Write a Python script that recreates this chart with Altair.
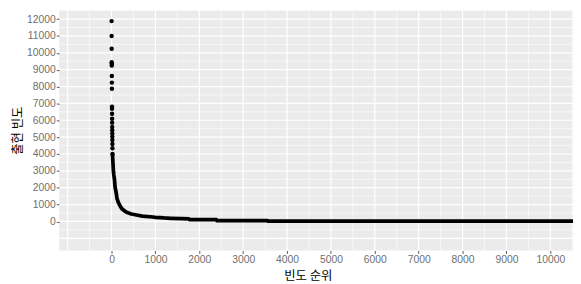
import altair as alt
import pandas as pd

# ---- data ----
# discrete points at the top ranks (rank 1..22)
head_rank = list(range(1, 23))
head_freq = [11880, 11000, 10240, 9440, 9350, 9250, 8625, 8235, 7865, 6810, 6680,
             6385, 6090, 5860, 5600, 5410, 5215, 5020, 4825, 4590, 4340, 4005]

# dense part of the curve (rank, frequency) read at sample ranks
curve_rank = [22, 25, 30, 35, 40, 50, 67, 80, 105, 125, 157, 200, 231, 300, 344, 450,
              569, 700, 940, 1000, 1200, 1350, 1600, 1765, 1775, 2390, 2400, 3560,
              3570, 10520]
curve_freq = [4005, 3850, 3600, 3350, 3100, 2800, 2490, 2050, 1710, 1350, 1120, 900,
              770, 620, 540, 440, 380, 320, 263, 245, 205, 187, 160, 150, 108, 100,
              50, 45, 15, 12]

x_ticks = [0, 1000, 2000, 3000, 4000, 5000, 6000, 7000, 8000, 9000, 10000]
y_ticks = [0, 1000, 2000, 3000, 4000, 5000, 6000, 7000, 8000, 9000, 10000, 11000, 12000]
x_grid_major = [-1000] + x_ticks
x_grid_minor = [v - 500 for v in x_grid_major] + [10500]
y_grid_major = [-1000] + y_ticks
y_grid_minor = [v + 500 for v in y_grid_major]

head_df = pd.DataFrame({"rank": head_rank, "freq": head_freq})
curve_df = pd.DataFrame({"rank": curve_rank, "freq": curve_freq})

xs = alt.Scale(domain=[-1191, 10517], nice=False, zero=False)
ys = alt.Scale(domain=[-1725, 12544], nice=False, zero=False)

AX_FONT = "Liberation Sans"
KR_FONT = "Noto Sans CJK KR"

x_axis = alt.Axis(values=x_ticks, format="d", grid=False, domain=False, tickSize=3, tickWidth=0.8,
                  tickColor="#333333", labelFont=AX_FONT, labelFontSize=10.5,
                  labelColor="#707070", labelPadding=1, title="빈도 순위",
                  titleFont=KR_FONT, titleFontSize=12.5, titleFontWeight="normal",
                  titleColor="#000000", titleX=252, titleY=25, titleAlign="center",
                  titleBaseline="middle", labelFlush=False)
y_axis = alt.Axis(values=y_ticks, format="d", grid=False, domain=False, tickSize=3, tickWidth=0.8,
                  tickColor="#333333", labelFont=AX_FONT, labelFontSize=10.5,
                  labelColor="#707070", labelPadding=1, title="출현 빈도",
                  titleFont=KR_FONT, titleFontSize=12.5, titleFontWeight="normal",
                  titleColor="#000000", titleX=-42, titleY=122, titleAlign="center",
                  titleBaseline="middle", titleAngle=270, labelFlush=False)

def vgrid(vals, w):
    return alt.Chart(pd.DataFrame({"v": vals})).mark_rule(color="white", strokeWidth=w, clip=True).encode(
        x=alt.X("v:Q", scale=xs, axis=x_axis))

def hgrid(vals, w):
    return alt.Chart(pd.DataFrame({"v": vals})).mark_rule(color="white", strokeWidth=w, clip=True).encode(
        y=alt.Y("v:Q", scale=ys, axis=y_axis))

grid = vgrid(x_grid_minor, 0.6) + hgrid(y_grid_minor, 0.6) + vgrid(x_grid_major, 1.2) + hgrid(y_grid_major, 1.2)

line = alt.Chart(curve_df).mark_line(color="black", strokeWidth=3.8, strokeCap="round",
                                     strokeJoin="round", clip=True).encode(
    x=alt.X("rank:Q", scale=xs, axis=x_axis),
    y=alt.Y("freq:Q", scale=ys, axis=y_axis),
)
pts = alt.Chart(head_df).mark_circle(color="black", opacity=1, size=20, clip=True).encode(
    x=alt.X("rank:Q", scale=xs, axis=x_axis),
    y=alt.Y("freq:Q", scale=ys, axis=y_axis),
)

chart = (grid + line + pts).properties(
    width=521, height=244,
    autosize=alt.AutoSizeParams(type="none"),
    padding={"left": 52, "top": 0, "right": 0, "bottom": 32},
    background="white",
).configure_view(fill="#EBEBEB", stroke=None)

chart.save("out.html", embed_options={"renderer": "svg", "actions": False})
